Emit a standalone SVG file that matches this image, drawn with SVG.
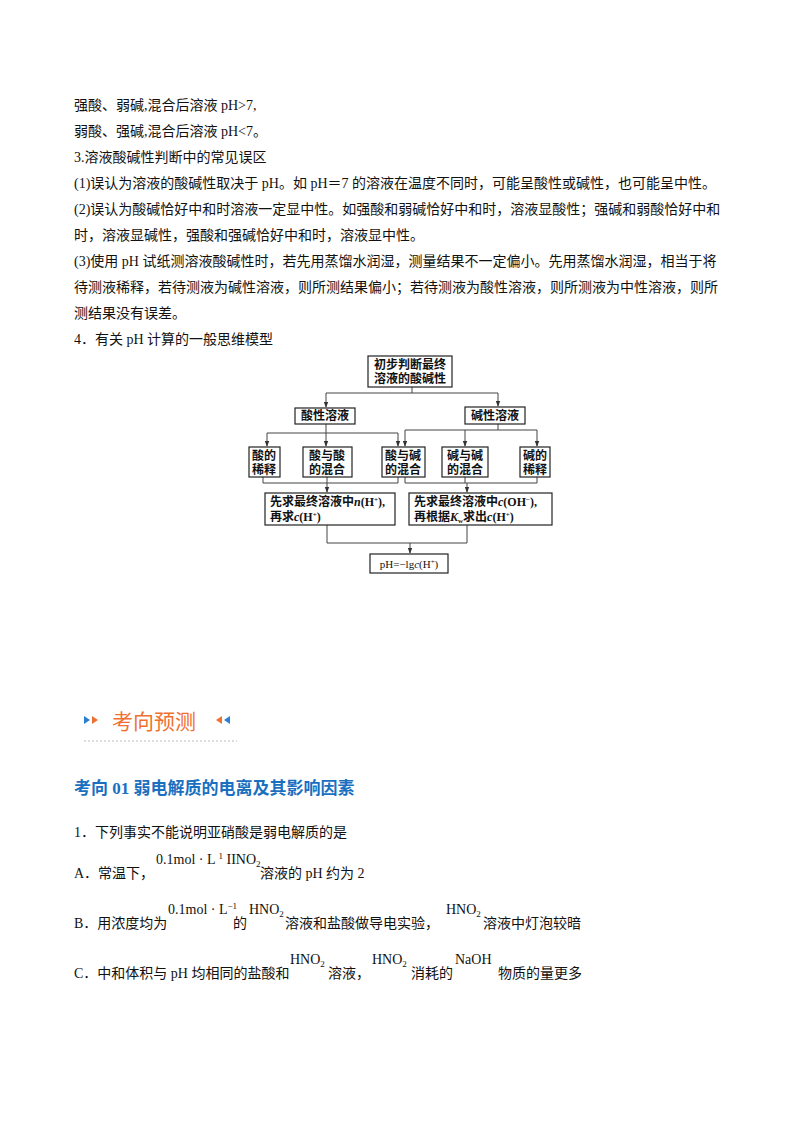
<svg xmlns="http://www.w3.org/2000/svg" width="800" height="1132" viewBox="0 0 800 1132">
<defs>
<style>
.t{font-family:"Liberation Serif","Noto Sans CJK SC",serif;font-size:14px;fill:#111}
.b{font-family:"Liberation Serif","Noto Sans CJK SC",serif;font-size:12px;font-weight:bold;fill:#111}
.s{font-family:"Liberation Serif","Noto Sans CJK SC",serif;font-size:11px;fill:#111}
.f{font-family:"Liberation Serif",serif;font-size:14px;fill:#111}
.bx{fill:#fff;stroke:#222;stroke-width:1.2}
.ln{fill:none;stroke:#444;stroke-width:1}
</style>
<marker id="a" viewBox="0 0 8 8" refX="7" refY="4" markerWidth="6" markerHeight="6" orient="auto"><path d="M0,1 L8,4 L0,7z" fill="#333"/></marker>
</defs>
<rect width="800" height="1132" fill="#fff"/>
<text class="t" x="74" y="110">强酸、弱碱,混合后溶液 pH&gt;7,</text>
<text class="t" x="74" y="136">弱酸、强碱,混合后溶液 pH&lt;7。</text>
<text class="t" x="74" y="162">3.溶液酸碱性判断中的常见误区</text>
<text class="t" x="74" y="188">(1)误认为溶液的酸碱性取决于 pH。如 pH＝7 的溶液在温度不同时，可能呈酸性或碱性，也可能呈中性。</text>
<text class="t" x="74" y="214">(2)误认为酸碱恰好中和时溶液一定显中性。如强酸和弱碱恰好中和时，溶液显酸性；强碱和弱酸恰好中和</text>
<text class="t" x="74" y="240">时，溶液显碱性，强酸和强碱恰好中和时，溶液显中性。</text>
<text class="t" x="74" y="266">(3)使用 pH 试纸测溶液酸碱性时，若先用蒸馏水润湿，测量结果不一定偏小。先用蒸馏水润湿，相当于将</text>
<text class="t" x="74" y="292">待测液稀释，若待测液为碱性溶液，则所测结果偏小；若待测液为酸性溶液，则所测液为中性溶液，则所</text>
<text class="t" x="74" y="318">测结果没有误差。</text>
<text class="t" x="74" y="344">4．有关 pH 计算的一般思维模型</text>

<g id="connectors">
<path class="ln" d="M412,387 V393 M326,393 H498"/>
<path class="ln" d="M326,393 V407" marker-end="url(#a)"/>
<path class="ln" d="M498,393 V406" marker-end="url(#a)"/>
<path class="ln" d="M326,424 V433 M267,433 H398"/>
<path class="ln" d="M267,433 V446" marker-end="url(#a)"/>
<path class="ln" d="M326,433 V446" marker-end="url(#a)"/>
<path class="ln" d="M398,433 V446" marker-end="url(#a)"/>
<path class="ln" d="M498,424 V430 M405,430 H537"/>
<path class="ln" d="M405,430 V446" marker-end="url(#a)"/>
<path class="ln" d="M465,430 V446" marker-end="url(#a)"/>
<path class="ln" d="M537,430 V446" marker-end="url(#a)"/>
<path class="ln" d="M263,477 V483 H398 V477 M327,477 V483"/>
<path class="ln" d="M327,483 V492" marker-end="url(#a)"/>
<path class="ln" d="M405,477 V483 H537 V477 M465,477 V483"/>
<path class="ln" d="M467,483 V492" marker-end="url(#a)"/>
<path class="ln" d="M327,525 V543 H467 V525"/>
<path class="ln" d="M410,543 V553" marker-end="url(#a)"/>
</g>
<g id="n0"><rect class="bx" x="368" y="356" width="84" height="31"/><text class="b" x="410" y="369" text-anchor="middle">初步判断最终</text><text class="b" x="410" y="383" text-anchor="middle">溶液的酸碱性</text></g>
<g id="n1"><rect class="bx" x="295" y="408" width="60" height="16"/><text class="b" x="325" y="420" text-anchor="middle">酸性溶液</text></g>
<g id="n2"><rect class="bx" x="465" y="407" width="60" height="17"/><text class="b" x="495" y="420" text-anchor="middle">碱性溶液</text></g>
<g id="n3"><rect class="bx" x="249" y="447" width="31" height="30"/><text class="b" x="264" y="460" text-anchor="middle">酸的</text><text class="b" x="264" y="474" text-anchor="middle">稀释</text></g>
<g id="n4"><rect class="bx" x="303" y="447" width="49" height="30"/><text class="b" x="327" y="460" text-anchor="middle">酸与酸</text><text class="b" x="327" y="474" text-anchor="middle">的混合</text></g>
<g id="n5"><rect class="bx" x="382" y="447" width="43" height="30"/><text class="b" x="403" y="460" text-anchor="middle">酸与碱</text><text class="b" x="403" y="474" text-anchor="middle">的混合</text></g>
<g id="n6"><rect class="bx" x="442" y="447" width="46" height="30"/><text class="b" x="465" y="460" text-anchor="middle">碱与碱</text><text class="b" x="465" y="474" text-anchor="middle">的混合</text></g>
<g id="n7"><rect class="bx" x="520" y="447" width="30" height="30"/><text class="b" x="535" y="460" text-anchor="middle">碱的</text><text class="b" x="535" y="474" text-anchor="middle">稀释</text></g>
<g id="n8"><rect class="bx" x="265" y="493" width="130" height="32"/><text class="b" x="270" y="506">先求最终溶液中<tspan font-style="italic">n</tspan>(H<tspan font-size="7" dy="-4">+</tspan><tspan dy="4">),</tspan></text><text class="b" x="270" y="521">再求<tspan font-style="italic">c</tspan>(H<tspan font-size="7" dy="-4">+</tspan><tspan dy="4">)</tspan></text></g>
<g id="n9"><rect class="bx" x="409" y="493" width="143" height="32"/><text class="b" x="414" y="506">先求最终溶液中<tspan font-style="italic">c</tspan>(OH<tspan font-size="7" dy="-4">−</tspan><tspan dy="4">),</tspan></text><text class="b" x="414" y="521">再根据<tspan font-style="italic">K</tspan><tspan font-size="7" dy="2">w</tspan><tspan dy="-2">求出</tspan><tspan font-style="italic">c</tspan>(H<tspan font-size="7" dy="-4">+</tspan><tspan dy="4">)</tspan></text></g>
<g id="n10"><rect class="bx" x="370" y="554" width="78" height="19"/><text class="s" x="409" y="568" text-anchor="middle">pH=−lg<tspan font-style="italic">c</tspan>(H<tspan font-size="7" dy="-4">+</tspan><tspan dy="4">)</tspan></text></g>

<path d="M84,716 L90,720 L84,724z" fill="#2a7fd4"/>
<path d="M92,716 L98,720 L92,724z" fill="#f07030"/>
<text x="112" y="729" font-family="Noto Sans CJK SC,sans-serif" font-size="21" fill="#f07030">考向预测</text>
<path d="M222,716 L216,720 L222,724z" fill="#f07030"/>
<path d="M230,716 L224,720 L230,724z" fill="#2a7fd4"/>
<line x1="84" y1="741" x2="237" y2="741" stroke="#bbb" stroke-dasharray="2,2"/>
<text x="74" y="794" font-family="Liberation Serif,Noto Sans CJK SC,serif" font-size="17" font-weight="bold" fill="#1a6fc0">考向 01  弱电解质的电离及其影响因素</text>

<text class="t" x="74" y="837">1．下列事实不能说明亚硝酸是弱电解质的是</text>
<text class="t" x="74" y="878">A．常温下，</text>
<text class="f" x="156" y="864">0.1mol · L <tspan font-size="9" dy="-5">1</tspan><tspan dy="5"> IINO</tspan><tspan font-size="9" dy="3">2</tspan></text>
<text class="t" x="260" y="878">溶液的 pH 约为 2</text>
<text class="t" x="74" y="928">B．用浓度均为</text>
<text class="f" x="168" y="914">0.1mol · L<tspan font-size="9" dy="-5">−1</tspan></text>
<text class="t" x="233" y="928">的</text>
<text class="f" x="249" y="914">HNO<tspan font-size="9" dy="3">2</tspan></text>
<text class="t" x="285" y="928">溶液和盐酸做导电实验，</text>
<text class="f" x="446" y="914">HNO<tspan font-size="9" dy="3">2</tspan></text>
<text class="t" x="483" y="928">溶液中灯泡较暗</text>
<text class="t" x="74" y="978">C．中和体积与 pH 均相同的盐酸和</text>
<text class="f" x="290" y="964">HNO<tspan font-size="9" dy="3">2</tspan></text>
<text class="t" x="328" y="978">溶液，</text>
<text class="f" x="372" y="964">HNO<tspan font-size="9" dy="3">2</tspan></text>
<text class="t" x="411" y="978">消耗的</text>
<text class="f" x="455" y="964">NaOH</text>
<text class="t" x="498" y="978">物质的量更多</text>
</svg>
